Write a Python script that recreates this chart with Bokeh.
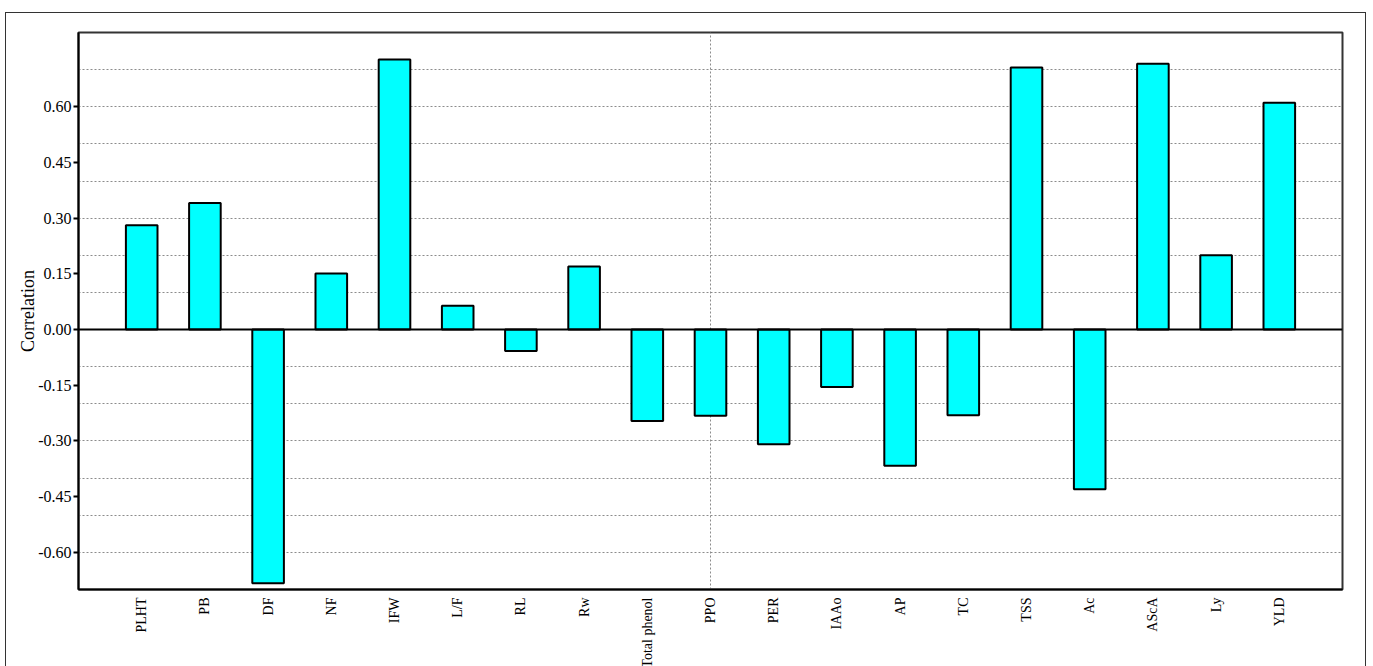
import math
from bokeh.plotting import figure
from bokeh.models import FixedTicker, NumeralTickFormatter, Span, ColumnDataSource, Range1d
from bokeh.embed import file_html
from bokeh.resources import INLINE

# Trait names and their correlation coefficients
traits = ["PLHT", "PB", "DF", "NF", "IFW", "L/F", "RL", "Rw", "Total phenol",
          "PPO", "PER", "IAAo", "AP", "TC", "TSS", "Ac", "AScA", "Ly", "YLD"]
correlation = [0.281, 0.341, -0.683, 0.151, 0.727, 0.064, -0.058, 0.170, -0.246,
               -0.232, -0.309, -0.155, -0.367, -0.231, 0.706, -0.430, 0.716, 0.200, 0.611]
y_ticks = [-0.60, -0.45, -0.30, -0.15, 0.00, 0.15, 0.30, 0.45, 0.60]
grid_levels = [-0.6, -0.5, -0.4, -0.3, -0.2, -0.1, 0.1, 0.2, 0.3, 0.4, 0.5, 0.6, 0.7]

positions = list(range(1, len(traits) + 1))
src = ColumnDataSource(dict(x=positions, y=correlation))

SERIF = "Liberation Serif"

p = figure(width=1361, height=671, output_backend="svg", toolbar_location=None,
           x_range=Range1d(0, len(traits) + 1), y_range=Range1d(-0.70, 0.80),
           min_border_left=72, min_border_right=25, min_border_top=19, min_border_bottom=95)
p.margin = (12, 0, 0, 5)
p.styles = {"border-top": "1px solid #333", "border-left": "1px solid #333",
            "border-right": "1px solid #333"}
p.background_fill_color = "white"
p.border_fill_color = "white"
p.outline_line_color = "#333333"
p.outline_line_width = 2

# dashed horizontal guides every 0.1
p.ygrid.ticker = FixedTicker(ticks=grid_levels)
p.ygrid.grid_line_color = "#8c8c8c"
p.ygrid.grid_line_dash = "2 2"
p.ygrid.grid_line_width = 1
# single dashed vertical guide at the middle category
p.xgrid.ticker = FixedTicker(ticks=[10])
p.xgrid.grid_line_color = "#8c8c8c"
p.xgrid.grid_line_dash = "2 2"
p.xgrid.grid_line_width = 1

p.vbar(x="x", top="y", bottom=0, width=0.5, source=src,
       fill_color="#00FFFF", line_color="black", line_width=2)

p.add_layout(Span(location=0, dimension="width", line_color="black", line_width=2))

# y axis
p.yaxis.ticker = FixedTicker(ticks=y_ticks)
p.yaxis.formatter = NumeralTickFormatter(format="0.00")
p.yaxis.axis_label = "Correlation"
p.yaxis.axis_label_text_font = SERIF
p.yaxis.axis_label_text_font_style = "normal"
p.yaxis.axis_label_text_font_size = "18px"
p.yaxis.axis_label_text_color = "black"
p.yaxis.axis_label_standoff = -3
p.yaxis.major_label_text_font = SERIF
p.yaxis.major_label_text_font_size = "16px"
p.yaxis.major_label_text_color = "black"
p.yaxis.axis_line_color = "black"
p.yaxis.axis_line_width = 2
p.yaxis.major_tick_line_color = "black"
p.yaxis.major_tick_line_width = 2
p.yaxis.major_tick_in = 0
p.yaxis.major_tick_out = 5
p.yaxis.minor_tick_line_color = None
p.yaxis.major_label_standoff = 2

# x axis with rotated trait names
p.xaxis.ticker = FixedTicker(ticks=positions)
p.xaxis.major_label_overrides = {i: t for i, t in zip(positions, traits)}
p.xaxis.major_label_orientation = math.pi / 2
p.xaxis.major_label_text_font = SERIF
p.xaxis.major_label_text_font_size = "14px"
p.xaxis.major_label_text_color = "black"
p.xaxis.axis_line_color = "black"
p.xaxis.axis_line_width = 2
p.xaxis.major_tick_line_color = None
p.xaxis.minor_tick_line_color = None
p.xaxis.major_label_standoff = 2

open("out.html", "w").write(file_html(p, INLINE))
